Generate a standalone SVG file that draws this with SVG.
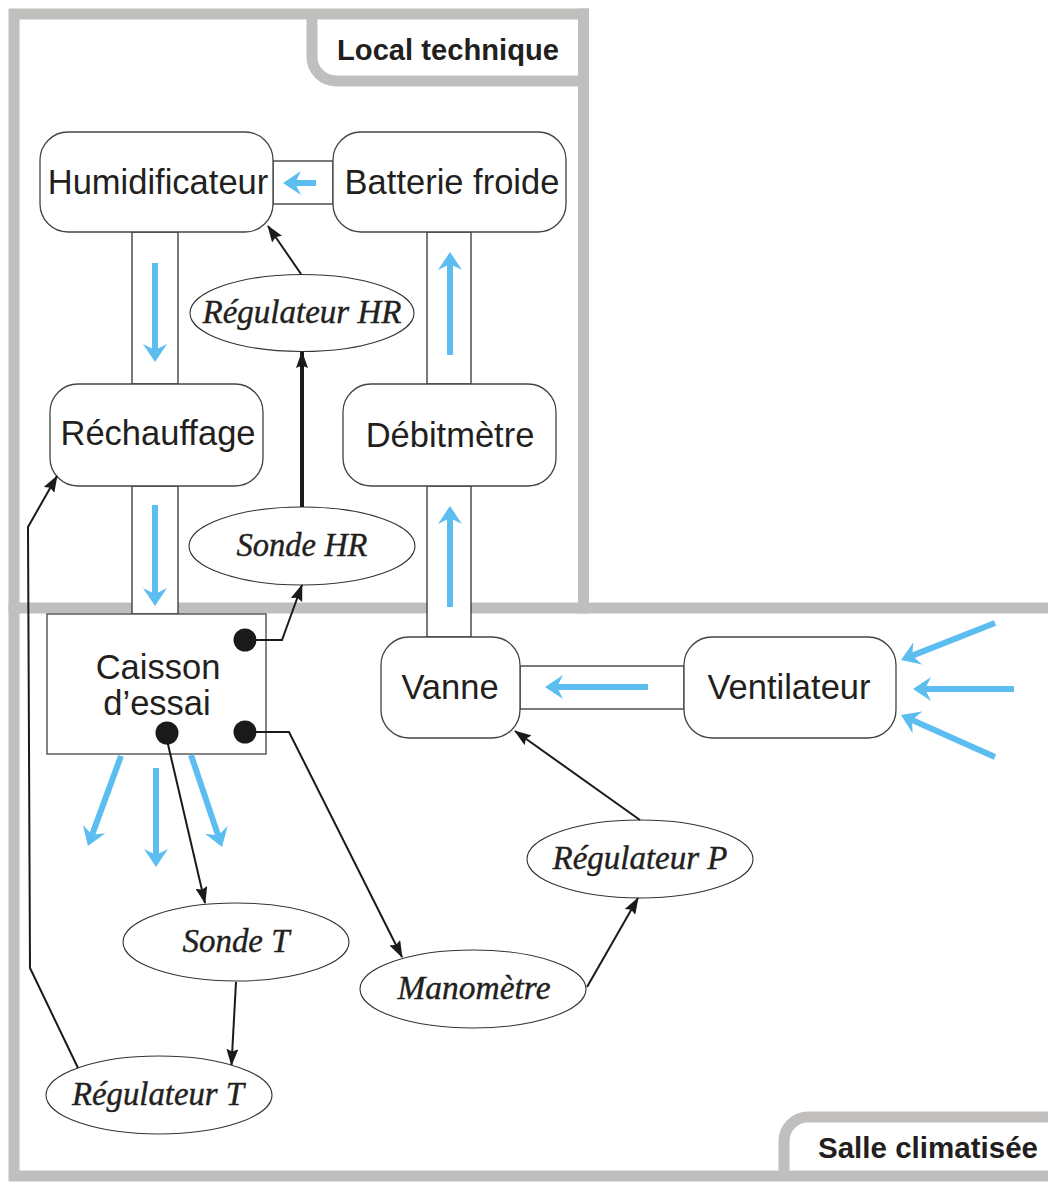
<svg xmlns="http://www.w3.org/2000/svg" width="1048" height="1182" viewBox="0 0 1048 1182">
<style>
.frame{fill:none;stroke:#c0bfbd;stroke-width:11;stroke-linecap:square}
.tab{fill:none;stroke:#c0bfbd;stroke-width:11}
.node{fill:#fff;stroke:#444;stroke-width:1.3}
.duct{fill:#fff;stroke:#333;stroke-width:1.3}
.ell{fill:#fff;stroke:#333;stroke-width:1.1}
.lbl{font-family:"Liberation Sans",Arial,sans-serif;font-size:34.5px;fill:#231f20;text-anchor:middle}
.it{font-family:"Liberation Serif","Times New Roman",serif;font-style:italic;font-size:33px;fill:#231f20;text-anchor:middle;stroke:#231f20;stroke-width:0.4}
.zone{font-family:"Liberation Sans",Arial,sans-serif;font-weight:bold;font-size:30px;fill:#231f20}
.con{fill:none;stroke:#1a1a1a;stroke-width:2;marker-end:url(#ah)}
.flow{fill:none;stroke:#5cbdf0;stroke-width:6;marker-end:url(#bh)}
.dot{fill:#1a1a1a}
</style>
<defs>
<marker id="ah" markerUnits="userSpaceOnUse" markerWidth="17" markerHeight="12" refX="16" refY="6" orient="auto" viewBox="0 0 17 12">
<path d="M0,0 L17,6 L0,12 L2.5,6 Z" fill="#1a1a1a"/>
</marker>
<marker id="bh" markerUnits="userSpaceOnUse" markerWidth="18" markerHeight="24" refX="6" refY="12" orient="auto" viewBox="0 0 18 24">
<path d="M0,0 L18,12 L0,24 L6,12 Z" fill="#5cbdf0"/>
</marker>
</defs>

<g id="zones">
<path class="frame" d="M583.5,14 H14 V1176 H1048"/>
<path class="frame" d="M583.5,14 V608"/>
<path class="frame" d="M14,608 H1048"/>
<path class="tab" d="M312,14 V57 A24,24 0 0 0 336,81 H583.5"/>
<path class="tab" d="M784,1176 V1141 A24,24 0 0 1 808,1117 H1048"/>
<text class="zone" x="337" y="60" textLength="222" lengthAdjust="spacingAndGlyphs">Local technique</text>
<text class="zone" x="818" y="1158" textLength="220" lengthAdjust="spacingAndGlyphs">Salle climatisée</text>
</g>

<g id="ducts">
<rect class="duct" x="273" y="161" width="60" height="43"/>
<rect class="duct" x="132" y="232" width="46" height="152"/>
<rect class="duct" x="132" y="486" width="46" height="128"/>
<rect class="duct" x="427" y="232" width="44" height="152"/>
<rect class="duct" x="427" y="486" width="44" height="151"/>
<rect class="duct" x="520" y="666" width="164" height="43"/>
</g>

<g id="humidificateur">
<rect class="node" x="40" y="132" width="233" height="100" rx="28"/>
<text class="lbl" x="158" y="194">Humidificateur</text>
</g>
<g id="batterie-froide">
<rect class="node" x="333" y="132" width="233" height="100" rx="28"/>
<text class="lbl" x="452" y="194">Batterie froide</text>
</g>
<g id="rechauffage">
<rect class="node" x="50" y="384" width="213" height="102" rx="28"/>
<text class="lbl" x="158" y="445">Réchauffage</text>
</g>
<g id="debitmetre">
<rect class="node" x="343" y="384" width="213" height="102" rx="28"/>
<text class="lbl" x="450" y="447">Débitmètre</text>
</g>
<g id="caisson">
<rect x="47" y="614" width="219" height="140" fill="#fff" stroke="#444" stroke-width="1.3"/>
<text class="lbl" x="158" y="679">Caisson</text>
<text class="lbl" x="157" y="715">d’essai</text>
<circle class="dot" cx="245" cy="640" r="11.5"/>
<circle class="dot" cx="167" cy="733" r="11.5"/>
<circle class="dot" cx="245" cy="732" r="11.5"/>
</g>
<g id="vanne">
<rect class="node" x="381" y="637" width="139" height="101" rx="28"/>
<text class="lbl" x="450" y="699">Vanne</text>
</g>
<g id="ventilateur">
<rect class="node" x="684" y="637" width="212" height="101" rx="28"/>
<text class="lbl" x="789" y="699">Ventilateur</text>
</g>

<g id="regulateur-hr">
<ellipse class="ell" cx="302" cy="313" rx="112" ry="38.5"/>
<text class="it" x="302" y="323" textLength="199" lengthAdjust="spacingAndGlyphs">Régulateur HR</text>
</g>
<g id="sonde-hr">
<ellipse class="ell" cx="302" cy="546" rx="113" ry="39"/>
<text class="it" x="302" y="556" textLength="131" lengthAdjust="spacingAndGlyphs">Sonde HR</text>
</g>
<g id="sonde-t">
<ellipse class="ell" cx="236" cy="942" rx="113" ry="39"/>
<text class="it" x="236" y="952" textLength="107" lengthAdjust="spacingAndGlyphs">Sonde T</text>
</g>
<g id="regulateur-t">
<ellipse class="ell" cx="159" cy="1095" rx="113" ry="39"/>
<text class="it" x="158" y="1105" textLength="172" lengthAdjust="spacingAndGlyphs">Régulateur T</text>
</g>
<g id="manometre">
<ellipse class="ell" cx="473" cy="989" rx="113" ry="39"/>
<text class="it" x="474" y="999" textLength="153" lengthAdjust="spacingAndGlyphs">Manomètre</text>
</g>
<g id="regulateur-p">
<ellipse class="ell" cx="640" cy="859" rx="113" ry="39"/>
<text class="it" x="640" y="869" textLength="175" lengthAdjust="spacingAndGlyphs">Régulateur P</text>
</g>

<g id="connectors">
<path class="con" d="M301,274 L268,226"/>
<path class="con" style="stroke-width:4" d="M302,507 V352"/>
<path class="con" d="M253,640 H282 L302,585"/>
<path class="con" d="M167,740 L205,903"/>
<path class="con" d="M253,732 H289 L402,957"/>
<path class="con" d="M236,982 L231.5,1065"/>
<path class="con" d="M78,1068 L30,968 L28,527 L57,476"/>
<path class="con" d="M587,987 L638,898"/>
<path class="con" d="M640,820 L515,731"/>
</g>

<g id="airflow">
<path class="flow" d="M316,183 H295"/>
<path class="flow" d="M155,263 V350"/>
<path class="flow" d="M155,505 V594"/>
<path class="flow" d="M450,355 V264"/>
<path class="flow" d="M450,607 V518"/>
<path class="flow" d="M648,687 H557"/>
<path class="flow" d="M995,623 L912.2,655.6"/>
<path class="flow" d="M1014,689 H925"/>
<path class="flow" d="M995,757 L912,719.9"/>
<path class="flow" d="M121,756 L92.1,834.7"/>
<path class="flow" d="M156,768 V855"/>
<path class="flow" d="M191,755 L218.2,835.6"/>
</g>
</svg>
